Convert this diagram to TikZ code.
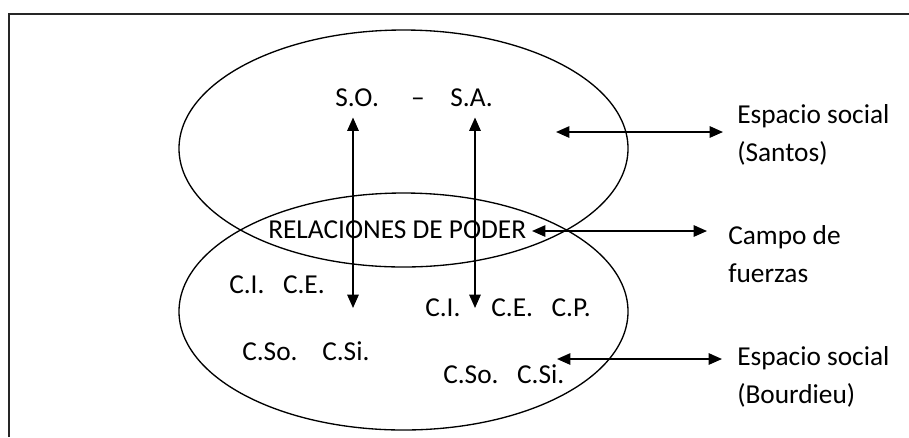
\documentclass[tikz,border=0pt]{standalone}
\usepackage{fontspec}
\setmainfont{Carlito}
\usetikzlibrary{arrows.meta, positioning}

\begin{document}
\begin{tikzpicture}[
  x=0.75pt,
  y=-0.75pt,
  font=\fontsize{20.5}{28.5}\selectfont,
  txt/.style={
    anchor=base west,
    inner sep=0pt
  },
  side/.style={
    anchor=base west,
    inner sep=0pt,
    align=left
  },
  ring/.style={
    line width=1pt
  },
  arrow/.style={
    <->,
    >={Triangle[length=10pt, width=8.5pt]},
    line width=1.3pt
  },
  frame/.style={
    line width=1.5pt,
    draw=black!85
  }
]

\useasboundingbox (0,0) rectangle (909,437);

% Frame
\draw[frame] (9,437) -- (9,13.5) -- (909,13.5);

% Ellipses
\draw[ring] (403.5,148.5) ellipse [x radius=224.5, y radius=118.5];
\draw[ring] (403.5,311.5) ellipse [x radius=224.5, y radius=118.5];

% Nodes
\node[txt] (so) at (335,106) {S.O.};
\node[anchor=base, inner sep=0pt] (dash) at (418,106) {--};
\node[txt] (sa) at (450,106) {S.A.};
\node[txt] (rel) at (268,238) {RELACIONES DE PODER};
\node[txt] (cieL) at (229,293) {C.I.~~~C.E.};
\node[txt] (csL) at (242,360) {C.So.~~~~C.Si.};
\node[txt] (cieR) at (425,316) {C.I.~~~~~C.E.~~~C.P.};
\node[txt] (csR) at (443,383) {C.So.~~~C.Si.};
% (base of a two-line node is its last line)
\node[side] (santos) at (737,161) {Espacio social\\(Santos)};
\node[side] (campo) at (728,282) {Campo de\\fuerzas};
\node[side] (bourd) at (737,403) {Espacio social\\(Bourdieu)};

% Free ends
\coordinate (lowA) at (353,308);
\coordinate (lowB) at (475,308);
\coordinate (upR) at (556,132);
\coordinate (midR) at (532,231);
\coordinate (downR) at (557,359);

% Arrows
\draw[arrow, shorten >=8.25pt] (lowA) -- (lowA |- so.south);
\draw[arrow, shorten >=8.25pt] (lowB) -- (lowB |- sa.south);
\draw[arrow, shorten >=10.5pt] (upR) -- (upR -| santos.west);
\draw[arrow, shorten >=15.75pt] (midR) -- (midR -| campo.west);
\draw[arrow, shorten >=11.25pt] (downR) -- (downR -| bourd.west);

\end{tikzpicture}
\end{document}
